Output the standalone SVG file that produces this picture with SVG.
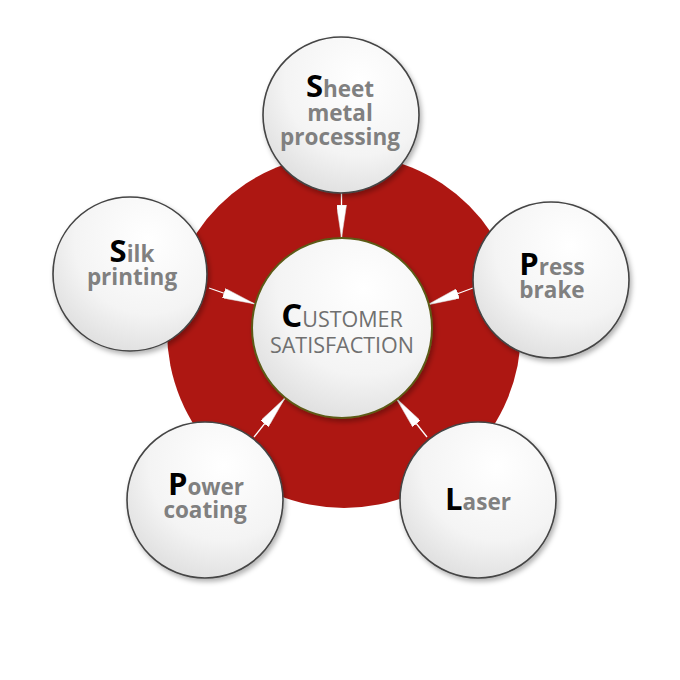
<svg xmlns="http://www.w3.org/2000/svg" width="680" height="680" viewBox="0 0 680 680">
<defs>
<radialGradient id="g" cx="0.62" cy="0.28" r="0.8">
<stop offset="0" stop-color="#ffffff"/>
<stop offset="0.6" stop-color="#f4f4f4"/>
<stop offset="1" stop-color="#dcdcdc"/>
</radialGradient>
<filter id="sh" x="-20%" y="-20%" width="140%" height="140%">
<feDropShadow dx="2" dy="3" stdDeviation="2.5" flood-color="#000" flood-opacity="0.3"/>
</filter>
<marker id="ah" viewBox="0 0 33 10" refX="33" refY="5" markerWidth="33" markerHeight="10" markerUnits="userSpaceOnUse" orient="auto">
<path d="M0,0 L33,5 L0,10 Z" fill="#ffffff" stroke="#dddddd" stroke-width="0.5"/>
</marker>
</defs>
<style>
.node{fill:url(#g);stroke:#444;stroke-width:1.6;filter:url(#sh)}
.hub{fill:url(#g);stroke:#5c5a16;stroke-width:2;filter:url(#sh)}
.t{font-family:"Open Sans","DejaVu Sans",sans-serif;font-weight:bold;font-size:22.5px;fill:#808080;text-anchor:middle}
.b{font-size:31px;fill:#000}
.ct{font-family:"Open Sans","DejaVu Sans",sans-serif;font-weight:normal;font-size:21.5px;fill:#707070;text-anchor:middle}
.cb{font-size:33px;font-weight:bold;fill:#000}
.arr{stroke:#ffffff;stroke-width:1.3;fill:none;marker-end:url(#ah)}
</style>
<circle id="ring" cx="344" cy="331" r="177" fill="#ad1712"/>
<g id="connectors">
<line class="arr" x1="341.5" y1="193" x2="341.5" y2="238"/>
<line class="arr" x1="209" y1="288" x2="255" y2="304"/>
<line class="arr" x1="473" y1="288" x2="427" y2="305"/>
<line class="arr" x1="254" y1="437" x2="285" y2="398"/>
<line class="arr" x1="427" y1="437" x2="396" y2="398"/>
</g>
<g id="customer-satisfaction">
<circle class="hub" cx="342" cy="328" r="90"/>
<text class="ct" x="342" y="327"><tspan class="cb">C</tspan>USTOMER</text>
<text class="ct" x="342" y="353">SATISFACTION</text>
</g>
<g id="sheet-metal">
<circle class="node" cx="341" cy="115" r="78"/>
<text class="t" x="340" y="97"><tspan class="b">S</tspan>heet</text>
<text class="t" x="340" y="121">metal</text>
<text class="t" x="340" y="145">processing</text>
</g>
<g id="press-brake">
<circle class="node" cx="551" cy="280" r="78"/>
<text class="t" x="552" y="275"><tspan class="b">P</tspan>ress</text>
<text class="t" x="552" y="298">brake</text>
</g>
<g id="laser">
<circle class="node" cx="478" cy="500" r="78"/>
<text class="t" x="478" y="510"><tspan class="b">L</tspan>aser</text>
</g>
<g id="power-coating">
<circle class="node" cx="205" cy="500" r="78"/>
<text class="t" x="206" y="495"><tspan class="b">P</tspan>ower</text>
<text class="t" x="205" y="518">coating</text>
</g>
<g id="silk-printing">
<circle class="node" cx="130" cy="274" r="77"/>
<text class="t" x="132" y="262"><tspan class="b">S</tspan>ilk</text>
<text class="t" x="132" y="285">printing</text>
</g>
</svg>
